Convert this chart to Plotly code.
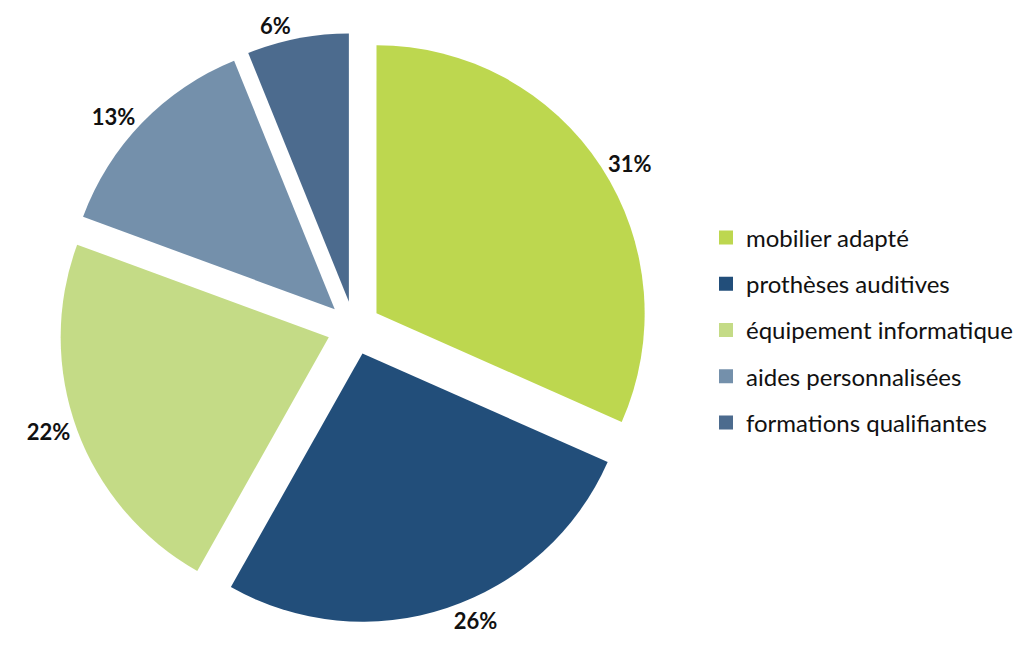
import plotly.graph_objects as go

categories = ["mobilier adapté", "prothèses auditives", "équipement informatique",
              "aides personnalisées", "formations qualifiantes"]
values = [31, 26, 22, 13, 6]
colors = ["#BDD74F", "#224E7A", "#C4DB86", "#7490AB", "#4C6B8E"]

W, H = 1027, 650
mt, mb = 25, 35
fig = go.Figure()
fig.add_trace(go.Pie(
    labels=categories, values=values, sort=False, direction="clockwise", rotation=0,
    marker=dict(colors=colors, line=dict(width=0)),
    pull=[0.1] * len(values),
    texttemplate="%{value}%", textposition="outside",
    textfont=dict(family="Lato", size=22, color="#111111", weight="bold"),
    showlegend=False, hoverinfo="label+value", automargin=False,
    domain=dict(x=[51 / W, 641 / W], y=[0, 1]),
))
for i, (c, col) in enumerate(zip(categories, colors)):
    fig.add_trace(go.Scatter(
        x=[None], y=[None], mode="markers", name=c, legendgroup=c,
        marker=dict(symbol="square", size=14, color=col),
        showlegend=True,
    ))

fig.update_layout(
    width=W, height=H,
    margin=dict(l=0, r=0, t=mt, b=mb, autoexpand=False),
    paper_bgcolor="white", plot_bgcolor="white",
    xaxis=dict(visible=False), yaxis=dict(visible=False),
    legend=dict(x=698 / W, xanchor="left", y=1 - (322 - mt) / (H - mt - mb), yanchor="middle",
                font=dict(family="Lato", size=24, color="#111111"),
                tracegroupgap=12, itemsizing="trace"),
    font=dict(family="Lato"),
)
fig.write_html("out.html")
